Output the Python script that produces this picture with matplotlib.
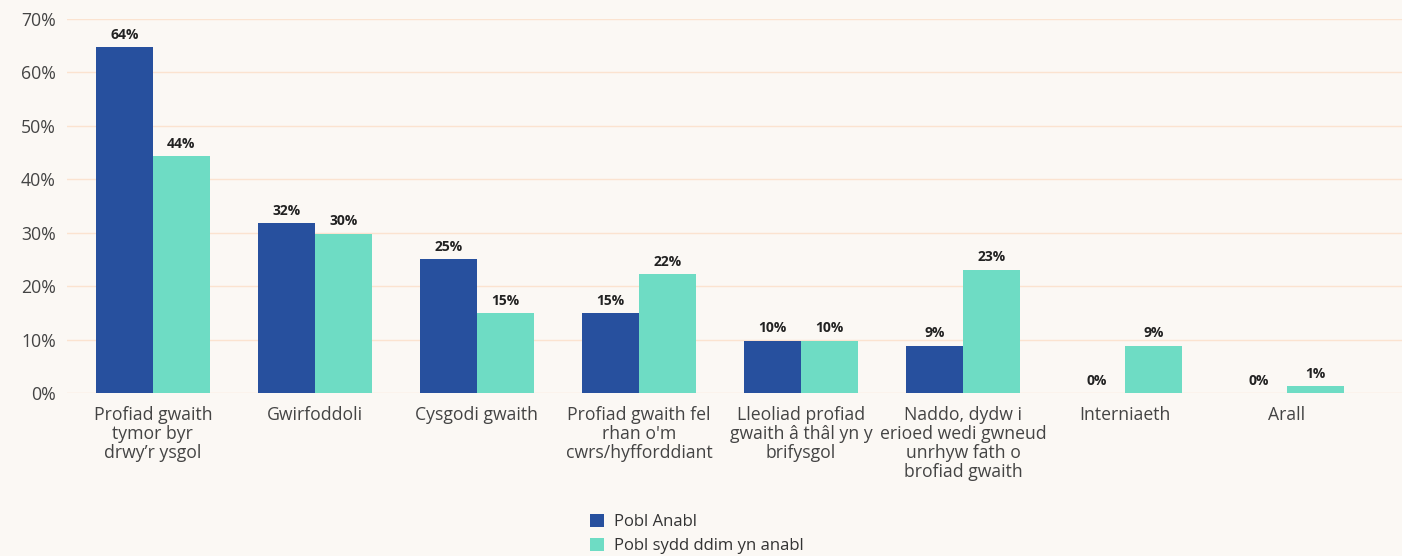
import matplotlib
matplotlib.use("Agg")
from matplotlib import pyplot as plt
import numpy as np

plt.rcParams['font.family'] = ['Open Sans', 'DejaVu Sans']

categories = ["Profiad gwaith\ntymor byr\ndrwy’r ysgol",
              "Gwirfoddoli",
              "Cysgodi gwaith",
              "Profiad gwaith fel\nrhan o'm\ncwrs/hyfforddiant",
              "Lleoliad profiad\ngwaith â thâl yn y\nbrifysgol",
              "Naddo, dydw i\nerioed wedi gwneud\nunrhyw fath o\nbrofiad gwaith",
              "Interniaeth",
              "Arall"]
anabl = [64.7, 31.8, 25.0, 14.9, 9.8, 8.9, 0, 0]
ddim_anabl = [44.3, 29.8, 14.9, 22.2, 9.8, 23.1, 8.9, 1.3]
anabl_labels = ["64%", "32%", "25%", "15%", "10%", "9%", "0%", "0%"]
ddim_labels = ["44%", "30%", "15%", "22%", "10%", "23%", "9%", "1%"]
series_names = ["Pobl Anabl", "Pobl sydd ddim yn anabl"]

bg = "#fbf8f4"
c1 = "#27509e"
c2 = "#6edcc4"

fig = plt.figure(figsize=(14.02, 5.56), dpi=100, facecolor=bg)
ax = fig.add_axes([0.0478, 0.293, 0.9522, 0.673])
ax.set_facecolor(bg)

x = np.arange(len(categories))
w = 0.35
b1 = ax.bar(x - w / 2, anabl, w, color=c1, label=series_names[0], zorder=3)
b2 = ax.bar(x + w / 2, ddim_anabl, w, color=c2, label=series_names[1], zorder=3)

for bars, labs in ((b1, anabl_labels), (b2, ddim_labels)):
    for rect, lab in zip(bars, labs):
        ax.annotate(lab, (rect.get_x() + rect.get_width() / 2, rect.get_height()),
                    xytext=(0, 4), textcoords="offset points",
                    ha="center", va="bottom", fontsize=10, fontweight="bold",
                    color="#222222")

ax.set_ylim(0, 70)
ax.set_xlim(-0.53, 7.71)
ax.set_yticks(range(0, 71, 10))
ax.set_yticklabels(["{}%".format(v) for v in range(0, 71, 10)])
ax.set_xticks(x)
ax.set_xticklabels(categories, linespacing=1.07)
ax.tick_params(axis="both", length=0, labelsize=12.7, labelcolor="#444444")
ax.tick_params(axis="x", pad=9)
ax.tick_params(axis="y", pad=8)
ax.grid(axis="y", color="#fbe3d0", linewidth=1, zorder=0)
for s in ax.spines.values():
    s.set_visible(False)

fig.legend(handles=[b1, b2], loc="upper left", bbox_to_anchor=(0.421, 0.076),
           frameon=False, fontsize=12, handlelength=0.85, handleheight=0.85,
           handletextpad=0.6, labelspacing=0.45, borderaxespad=0, borderpad=0,
           labelcolor="#333333")

fig.savefig("out.png", dpi=100, facecolor=bg)
